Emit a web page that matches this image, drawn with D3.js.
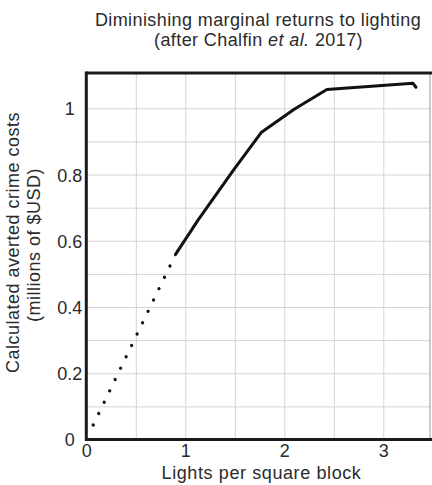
<!DOCTYPE html>
<html><head><meta charset="utf-8">
<script src="https://cdn.jsdelivr.net/npm/d3@7"></script>
<style>
body{margin:0;background:#fff}
svg{display:block}
text{font-family:"Liberation Sans",Arial,Helvetica,sans-serif;fill:#2b2b2b}
</style>
</head><body>
<svg id="c" width="432" height="485"></svg>
<script>
// ---- data ----
const solidX = [0.9, 1.13, 1.49, 1.77, 2.1, 2.43, 3.3, 3.33];
const solidY = [0.558, 0.663, 0.815, 0.928, 0.997, 1.057, 1.0755, 1.0635];
const dottedX = [0.07, 0.9];
const dottedY = [0.044, 0.558];
const xTicks = [0, 1, 2, 3];
const xTickLabels = ["0", "1", "2", "3"];
const yTicks = [0, 0.2, 0.4, 0.6, 0.8, 1];
const yTickLabels = ["0", "0.2", "0.4", "0.6", "0.8", "1"];
const xGrid = [0.5, 1, 1.5, 2, 2.5, 3];
const yGrid = [0.1, 0.2, 0.3, 0.4, 0.5, 0.6, 0.7, 0.8, 0.9, 1.0];
const titleLine1 = "Diminishing marginal returns to lighting";
const xTitle = "Lights per square block";
const yTitle1 = "Calculated averted crime costs";
const yTitle2 = "(millions of $USD)";

const svg = d3.select("#c");
const L = 86.3, R = 430, T = 73, B = 439.5;
const x = d3.scaleLinear().domain([0, 3.5]).range([L, L + 3.5 * 99]);
const y = d3.scaleLinear().domain([0, 1.1]).range([B, B - 1.1 * 331.2]);

// gridlines
const gx = svg.append("g").attr("transform", `translate(0,${T})`)
  .call(d3.axisBottom(x).tickValues(xGrid).tickSize(B - T).tickFormat(""));
gx.select(".domain").remove();
gx.selectAll("line").attr("stroke", "#d4d4d4").attr("stroke-width", 1);
const gy = svg.append("g").attr("transform", `translate(${L},0)`)
  .call(d3.axisRight(y).tickValues(yGrid).tickSize(R - L).tickFormat(""));
gy.select(".domain").remove();
gy.selectAll("line").attr("stroke", "#d4d4d4").attr("stroke-width", 1);

// frame
svg.append("line").attr("x1", R).attr("x2", R).attr("y1", T).attr("y2", B)
  .attr("stroke", "#9a9a9a").attr("stroke-width", 1);
svg.append("line").attr("x1", L).attr("x2", 432).attr("y1", T).attr("y2", T)
  .attr("stroke", "#1a1a1a").attr("stroke-width", 3);
svg.append("line").attr("x1", L).attr("x2", 432).attr("y1", B).attr("y2", B)
  .attr("stroke", "#1a1a1a").attr("stroke-width", 3);
svg.append("line").attr("x1", L).attr("x2", L).attr("y1", T - 1.5).attr("y2", B + 1.5)
  .attr("stroke", "#1a1a1a").attr("stroke-width", 3);

// tick labels
const ax = svg.append("g").attr("transform", `translate(0,${B})`)
  .call(d3.axisBottom(x).tickValues(xTicks).tickSize(0).tickFormat((d, i) => xTickLabels[i]));
ax.select(".domain").remove();
ax.selectAll("text").attr("y", 17.5).attr("dy", null)
  .attr("font-size", 18).attr("fill", "#2b2b2b")
  .attr("font-family", '"Liberation Sans",Arial,sans-serif');
const ay = svg.append("g").attr("transform", `translate(${L},0)`)
  .call(d3.axisLeft(y).tickValues(yTicks).tickSize(0).tickFormat((d, i) => yTickLabels[i]));
ay.select(".domain").remove();
ay.selectAll("text").attr("x", -16.5).attr("text-anchor", "middle").attr("dy", "0.36em")
  .attr("font-size", 18).attr("fill", "#2b2b2b")
  .attr("font-family", '"Liberation Sans",Arial,sans-serif');

// data: dotted segment
const line = d3.line().x(d => x(d[0])).y(d => y(d[1]));
svg.append("path").datum(d3.zip(dottedX, dottedY)).attr("d", line)
  .attr("fill", "none").attr("stroke", "#111").attr("stroke-width", 3.3)
  .attr("stroke-linecap", "round").attr("stroke-dasharray", "0.01 12.6");
// data: solid curve
svg.append("path").datum(d3.zip(solidX, solidY)).attr("d", line)
  .attr("fill", "none").attr("stroke", "#111").attr("stroke-width", 3)
  .attr("stroke-linejoin", "round").attr("stroke-linecap", "round");

// titles
svg.append("text").attr("x", 258).attr("y", 26).attr("text-anchor", "middle")
  .attr("font-size", 18).attr("letter-spacing", 0.4).text(titleLine1);
const t2 = svg.append("text").attr("x", 258.5).attr("y", 46).attr("text-anchor", "middle")
  .attr("font-size", 18).attr("letter-spacing", 0.4);
t2.append("tspan").text("(after Chalfin ");
t2.append("tspan").attr("font-style", "italic").text("et al.");
t2.append("tspan").text(" 2017)");

svg.append("text").attr("x", 261.5).attr("y", 479).attr("text-anchor", "middle")
  .attr("font-size", 18).attr("letter-spacing", 0.6).text(xTitle);

svg.append("text").attr("transform", "translate(19,242.5) rotate(-90)").attr("text-anchor", "middle")
  .attr("font-size", 18).attr("letter-spacing", 0.5).text(yTitle1);
svg.append("text").attr("transform", "translate(40,245) rotate(-90)").attr("text-anchor", "middle")
  .attr("font-size", 18).attr("letter-spacing", 0.5).text(yTitle2);
</script>
</body></html>
